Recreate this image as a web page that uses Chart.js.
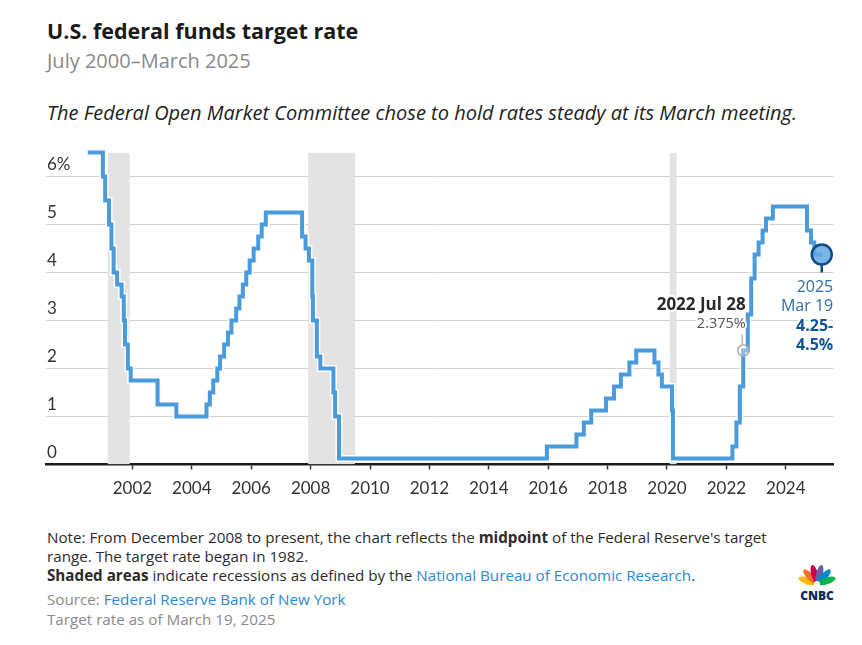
<!DOCTYPE html>
<html>
<head>
<meta charset="utf-8">
<script src="https://cdn.jsdelivr.net/npm/chart.js@4.4.1/dist/chart.umd.min.js"></script>
<style>
    body { margin: 0; background: #fff; font-family: "Open Sans", Lato, sans-serif; }
    #page { position: relative; width: 862px; height: 645px; overflow: hidden; }
    .txt { position: absolute; left: 47px; white-space: nowrap; line-height: 20px; }
    #title { top: 21px; font-size: 21.5px; font-weight: 700; color: #1a1a1a; }
    #subtitle { top: 51px; font-size: 20px; color: #8a8a8a; }
    #dek { top: 103px; font-size: 20px; font-style: italic; color: #222; }
    .note { font-size: 15.2px; color: #2b2b2b; }
    .note b { font-weight: 700; }
    .link { color: #2b8ad2; }
    .gray { color: #8a8a8a; }
    #chartBox { position: absolute; left: 0; top: 140px; width: 862px; height: 370px; }
    #logo { position: absolute; left: 796px; top: 557px; width: 42px; height: 46px; }
</style>
</head>
<body>
<div id="page">
    <div class="txt" id="title">U.S. federal funds target rate</div>
    <div class="txt" id="subtitle">July 2000–March 2025</div>
    <div class="txt" id="dek">The Federal Open Market Committee chose to hold rates steady at its March meeting.</div>

    <div id="chartBox"><canvas id="rateChart" width="862" height="370"></canvas></div>

    <div class="txt note" style="top:527px">Note: From December 2008 to present, the chart reflects the <b>midpoint</b> of the Federal Reserve's target</div>
    <div class="txt note" style="top:546px">range. The target rate began in 1982.</div>
    <div class="txt note" style="top:565px"><b>Shaded areas</b> indicate recessions as defined by the <span class="link">National Bureau of Economic Research</span>.</div>
    <div class="txt note gray" style="top:589px">Source: <span class="link">Federal Reserve Bank of New York</span></div>
    <div class="txt note gray" style="top:609px">Target rate as of March 19, 2025</div>

    <svg id="logo" viewBox="0 0 42 46">
        <g transform="translate(21,27)">
            <ellipse cx="0" cy="-10" rx="3.4" ry="9.5" fill="#fcb711" transform="rotate(-72)"/>
            <ellipse cx="0" cy="-10" rx="3.4" ry="9.5" fill="#f37021" transform="rotate(-43)"/>
            <ellipse cx="0" cy="-10" rx="3.4" ry="9.5" fill="#cc004c" transform="rotate(-14)"/>
            <ellipse cx="0" cy="-10" rx="3.4" ry="9.5" fill="#6460aa" transform="rotate(14)"/>
            <ellipse cx="0" cy="-10" rx="3.4" ry="9.5" fill="#0089d0" transform="rotate(43)"/>
            <ellipse cx="0" cy="-10" rx="3.4" ry="9.5" fill="#0db14b" transform="rotate(72)"/>
            <circle cx="0" cy="0" r="3" fill="#fff"/>
        </g>
        <text x="21" y="43" text-anchor="middle" font-family="'Open Sans', sans-serif" font-weight="800" font-size="12" fill="#0c2a5c">CNBC</text>
    </svg>
</div>

<script>
//Données - taux cible (milieu de fourchette après déc. 2008)
var rateDates = [
    '2000-07-01', '2001-01-03', '2001-01-31', '2001-03-20', '2001-04-18', '2001-05-15', '2001-06-27',
    '2001-08-21', '2001-09-17', '2001-10-02', '2001-11-06', '2001-12-11', '2002-11-06', '2003-06-25',
    '2004-06-30', '2004-08-10', '2004-09-21', '2004-11-10', '2004-12-14', '2005-02-02', '2005-03-22',
    '2005-05-03', '2005-06-30', '2005-08-09', '2005-09-20', '2005-11-01', '2005-12-13', '2006-01-31',
    '2006-03-28', '2006-05-10', '2006-06-29', '2007-09-18', '2007-10-31', '2007-12-11', '2008-01-22',
    '2008-01-30', '2008-03-18', '2008-04-30', '2008-10-08', '2008-10-29', '2008-12-16', '2015-12-16',
    '2016-12-14', '2017-03-15', '2017-06-14', '2017-12-13', '2018-03-21', '2018-06-13', '2018-09-26',
    '2018-12-19', '2019-07-31', '2019-09-18', '2019-10-30', '2020-03-03', '2020-03-15', '2022-03-16',
    '2022-05-04', '2022-06-15', '2022-07-27', '2022-09-21', '2022-11-02', '2022-12-14', '2023-02-01',
    '2023-03-22', '2023-05-03', '2023-07-26', '2024-09-18', '2024-11-07', '2024-12-18', '2025-03-19'
];
var rateValues = [
    6.5, 6.0, 5.5, 5.0, 4.5, 4.0, 3.75,
    3.5, 3.0, 2.5, 2.0, 1.75, 1.25, 1.0,
    1.25, 1.5, 1.75, 2.0, 2.25, 2.5, 2.75,
    3.0, 3.25, 3.5, 3.75, 4.0, 4.25, 4.5,
    4.75, 5.0, 5.25, 4.75, 4.5, 4.25, 3.5,
    3.0, 2.25, 2.0, 1.5, 1.0, 0.125, 0.375,
    0.625, 0.875, 1.125, 1.375, 1.625, 1.875, 2.125,
    2.375, 2.125, 1.875, 1.625, 1.125, 0.125, 0.375,
    0.875, 1.625, 2.375, 3.125, 3.875, 4.375, 4.625,
    4.875, 5.125, 5.375, 4.875, 4.625, 4.375, 4.375
];

//Récessions NBER
var recessionStarts = ['2001-03-01', '2007-12-01', '2020-02-01'];
var recessionEnds = ['2001-11-30', '2009-06-30', '2020-04-30'];

//Axes
var xTickYears = [2002, 2004, 2006, 2008, 2010, 2012, 2014, 2016, 2018, 2020, 2022, 2024];
var yTickValues = [0, 1, 2, 3, 4, 5, 6];

//Annotations
var highlightDate = '2022-07-28';
var highlightValue = 2.375;
var lastDate = '2025-03-19';
var lastValue = 4.375;

function toYear(s) {
    var p = s.split('-');
    var y = +p[0];
    var start = Date.UTC(y, 0, 1);
    var end = Date.UTC(y + 1, 0, 1);
    return y + (Date.UTC(y, +p[1] - 1, +p[2]) - start) / (end - start);
}

var ratePoints = rateDates.map(function (d, i) { return { x: toYear(d), y: rateValues[i] }; });

var recessionSets = recessionStarts.map(function (d, i) {
    return {
        data: [{ x: toYear(d), y: 6.5 }, { x: toYear(recessionEnds[i]), y: 6.5 }],
        borderWidth: 0,
        pointRadius: 0,
        fill: 'origin',
        backgroundColor: '#e3e3e3',
        order: 5
    };
});

function haloText(ctx, txt, x, y) {
    ctx.strokeText(txt, x, y);
    ctx.fillText(txt, x, y);
}

//Textes des annotations
var labelsPlugin = {
    id: 'labels',
    afterDatasetsDraw: function (chart) {
        var ctx = chart.ctx;
        var xs = chart.scales.x, ys = chart.scales.y;
        ctx.save();
        ctx.textAlign = 'right';
        ctx.textBaseline = 'middle';
        ctx.lineJoin = 'round';
        ctx.strokeStyle = '#fff';
        ctx.lineWidth = 4;

        var hx = xs.getPixelForValue(toYear(highlightDate));
        var hy = ys.getPixelForValue(highlightValue);
        ctx.font = '700 17px "Open Sans"';
        ctx.fillStyle = '#2a2a2a';
        haloText(ctx, '2022 Jul 28', hx + 2.5, hy - 45.5);
        ctx.font = '14.5px "Open Sans"';
        ctx.fillStyle = '#555';
        haloText(ctx, '2.375%', hx + 2.5, hy - 26.5);

        var lx = xs.getPixelForValue(toYear(lastDate));
        var ly = ys.getPixelForValue(lastValue);
        ctx.font = '16px "Open Sans"';
        ctx.fillStyle = '#2f6ea8';
        haloText(ctx, '2025', lx + 11.5, ly + 33);
        haloText(ctx, 'Mar 19', lx + 11.5, ly + 52);
        ctx.font = '700 16px "Open Sans"';
        ctx.fillStyle = '#0f5597';
        haloText(ctx, '4.25-', lx + 11.5, ly + 72);
        haloText(ctx, '4.5%', lx + 11.5, ly + 91);

        //petits traits de rappel
        ctx.lineWidth = 1.5;
        ctx.strokeStyle = '#b5b5b5';
        ctx.beginPath();
        ctx.moveTo(hx - 1, hy - 6);
        ctx.lineTo(hx - 1, hy - 16);
        ctx.stroke();
        ctx.lineWidth = 2.5;
        ctx.strokeStyle = '#0d4e86';
        ctx.beginPath();
        ctx.moveTo(lx, ly + 10);
        ctx.lineTo(lx, ly + 18);
        ctx.stroke();
        ctx.restore();
    }
};

var ctx = document.getElementById('rateChart').getContext('2d');
var chart = new Chart(ctx, {
    type: 'line',
    data: {
        datasets: recessionSets.concat([
            {
                data: ratePoints,
                stepped: true,
                borderColor: '#ffffff',
                borderWidth: 7,
                pointRadius: 0,
                fill: false,
                clip: false,
                order: 3
            },
            {
                data: ratePoints,
                stepped: true,
                borderColor: '#4a9bdb',
                borderWidth: 4,
                pointRadius: 0,
                fill: false,
                clip: false,
                order: 2
            },
            {
                data: [{ x: toYear(highlightDate), y: highlightValue }],
                showLine: false,
                pointRadius: 5.5,
                pointBackgroundColor: 'rgba(255,255,255,0.35)',
                pointBorderColor: '#aaaaaa',
                pointBorderWidth: 1.5,
                clip: false,
                order: 1
            },
            {
                data: [{ x: toYear(lastDate), y: lastValue }],
                showLine: false,
                pointRadius: 10,
                pointBackgroundColor: 'rgba(98,168,226,0.85)',
                pointBorderColor: '#0d4e86',
                pointBorderWidth: 2.5,
                clip: false,
                order: 0
            }
        ])
    },
    options: {
        responsive: false,
        devicePixelRatio: 1,
        animation: false,
        layout: { padding: { top: 12.5, left: 46, right: 29, bottom: 0 } },
        plugins: {
            legend: { display: false },
            tooltip: { enabled: false }
        },
        scales: {
            x: {
                type: 'linear',
                min: 1999.09,
                max: 2025.59,
                afterBuildTicks: function (scale) {
                    scale.ticks = xTickYears.map(function (v) { return { value: v }; });
                },
                afterFit: function (scale) { scale.height = 45.5; },
                ticks: {
                    autoSkip: false,
                    maxRotation: 0,
                    padding: 9,
                    color: '#333',
                    font: { family: 'Lato', size: 17 },
                    callback: function (v) { return String(v); }
                },
                grid: {
                    drawOnChartArea: false,
                    drawTicks: true,
                    tickLength: 5,
                    tickColor: '#333',
                    tickWidth: 1.5
                },
                border: { display: true, color: '#1a1a1a', width: 2.5 }
            },
            y: {
                min: 0,
                max: 6.5,
                afterBuildTicks: function (scale) {
                    scale.ticks = yTickValues.map(function (v) { return { value: v }; });
                },
                afterFit: function (scale) { scale.width = 0; },
                ticks: {
                    mirror: true,
                    padding: 1,
                    labelOffset: -11.5,
                    color: '#333',
                    font: { family: 'Lato', size: 17 },
                    callback: function (v) { return v === 6 ? '6%' : String(v); }
                },
                grid: {
                    drawTicks: false,
                    lineWidth: 1,
                    color: function (c) { return c.tick && c.tick.value === 0 ? 'rgba(0,0,0,0)' : '#d2d2d2'; }
                },
                border: { display: false }
            }
        }
    },
    plugins: [labelsPlugin]
});
</script>
</body>
</html>
